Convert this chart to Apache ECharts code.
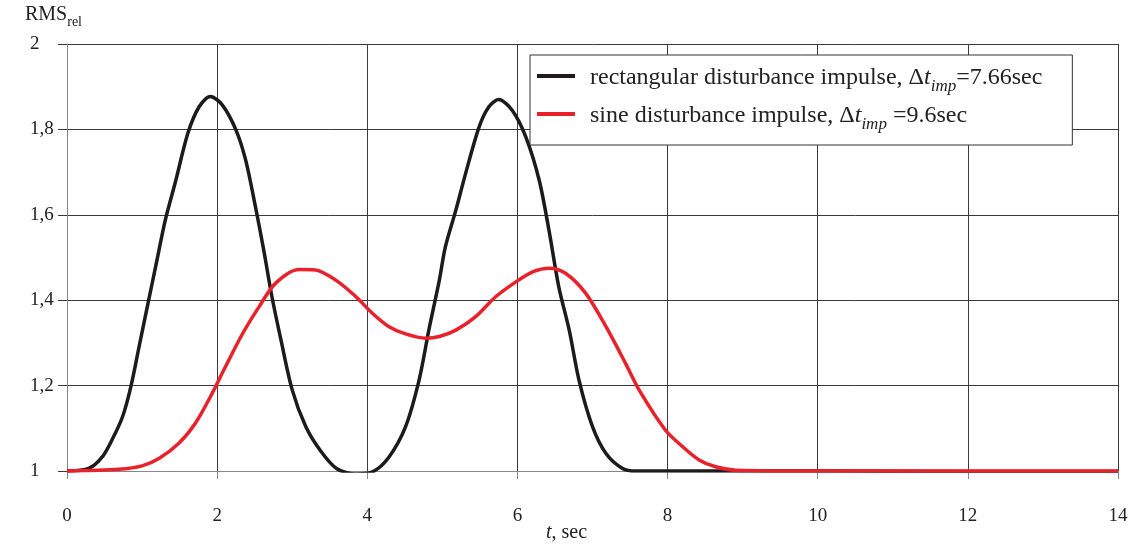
<!DOCTYPE html>
<html><head><meta charset="utf-8">
<script src="https://cdn.jsdelivr.net/npm/echarts@6/dist/echarts.min.js"></script>
<style>html,body{margin:0;padding:0;background:#fff}#c{width:1136px;height:545px}</style>
</head><body><div id="c"></div>
<script>
const xTicks = [0, 2, 4, 6, 8, 10, 12, 14];
const yTicks = [1, 1.2, 1.4, 1.6, 1.8, 2];

const rectT = [0, 0.29, 0.47, 0.60, 0.74, 0.85, 0.96, 1.07, 1.18, 1.31, 1.45, 1.61, 1.76, 1.91, 2.07, 2.25, 2.38, 2.51, 2.62, 2.73, 2.85, 3.00, 3.18, 3.37, 3.59, 3.85, 4.07, 4.29, 4.51, 4.69, 4.82, 4.96, 5.04, 5.18, 5.31, 5.49, 5.62, 5.75, 5.93, 6.11, 6.29, 6.42, 6.55, 6.69, 6.82, 7.00, 7.18, 7.40, 7.58, 8, 10, 12, 14];
const rectV = [1.0, 1.006, 1.033, 1.073, 1.127, 1.197, 1.291, 1.385, 1.478, 1.588, 1.681, 1.791, 1.853, 1.877, 1.857, 1.799, 1.728, 1.619, 1.518, 1.408, 1.307, 1.190, 1.104, 1.049, 1.006, 0.993, 0.998, 1.033, 1.104, 1.213, 1.330, 1.447, 1.525, 1.611, 1.697, 1.806, 1.853, 1.870, 1.845, 1.783, 1.681, 1.564, 1.432, 1.330, 1.213, 1.104, 1.041, 1.006, 1.000, 1.0, 1.0, 0.999, 0.999];

const sineT = [0, 0.69, 1.00, 1.23, 1.49, 1.71, 1.91, 2.11, 2.34, 2.56, 2.78, 3.09, 3.31, 3.58, 3.85, 4.07, 4.29, 4.51, 4.78, 4.96, 5.18, 5.44, 5.71, 5.98, 6.21, 6.42, 6.64, 6.91, 7.18, 7.44, 7.62, 7.97, 8.20, 8.42, 8.64, 8.91, 10, 12, 14];
const sineV = [1.0, 1.004, 1.012, 1.030, 1.065, 1.112, 1.174, 1.244, 1.322, 1.385, 1.440, 1.472, 1.471, 1.447, 1.408, 1.369, 1.338, 1.321, 1.311, 1.315, 1.330, 1.361, 1.408, 1.443, 1.467, 1.475, 1.463, 1.416, 1.338, 1.252, 1.190, 1.096, 1.057, 1.026, 1.010, 1.002, 1.0, 1.0, 1.0];

const nameRect = 'rect';
const nameSine = 'sine';

const serif = '"Liberation Serif", "DejaVu Serif", serif';
const chart = echarts.init(document.getElementById('c'), null, {renderer: 'canvas'});
chart.setOption({
  animation: false,
  backgroundColor: '#fff',
  grid: {left: 67, right: 18, top: 44, bottom: 74, show: false, outerBoundsMode: 'none', containLabel: false},
  legend: {
    left: 530, top: 55, orient: 'vertical',
    padding: [11, 30, 12, 7],
    itemGap: 9,
    backgroundColor: '#fff',
    borderColor: '#333', borderWidth: 1,
    itemWidth: 38, itemHeight: 4,
    icon: 'rect',
    data: [nameRect, nameSine],
    formatter: function (n) {
      if (n === nameRect) return '{n|rectangular disturbance impulse, Δ}{i|t}{s|imp}{n|=7.66sec}';
      return '{n|sine disturbance impulse, Δ}{i|t}{s|imp}{n| =9.6sec}';
    },
    textStyle: {
      fontFamily: serif, fontSize: 24, color: '#222', padding: [0, 0, 0, 10],
      rich: {
        n: {fontFamily: serif, fontSize: 24, color: '#222', verticalAlign: 'bottom', lineHeight: 28},
        i: {fontFamily: serif, fontSize: 24, fontStyle: 'italic', color: '#222', verticalAlign: 'bottom', lineHeight: 28},
        s: {fontFamily: serif, fontSize: 17, fontStyle: 'italic', color: '#222', verticalAlign: 'bottom', lineHeight: 28, padding: [0, 0, -5, 0]}
      }
    }
  },
  xAxis: {
    type: 'value', min: xTicks[0], max: xTicks[xTicks.length - 1], interval: 2,
    axisLine: {show: true, lineStyle: {color: '#888', width: 1}},
    axisTick: {show: true, length: 8, lineStyle: {color: '#888'}},
    splitLine: {show: true, lineStyle: {color: '#3a3a3a', width: 1}},
    axisLabel: {fontFamily: serif, fontSize: 19, color: '#222', margin: 36}
  },
  yAxis: {
    type: 'value', min: yTicks[0], max: yTicks[yTicks.length - 1], interval: 0.2,
    axisLine: {show: true, lineStyle: {color: '#888', width: 1}},
    axisTick: {show: true, length: 9, lineStyle: {color: '#3a3a3a'}},
    splitLine: {show: true, lineStyle: {color: '#3a3a3a', width: 1}},
    axisLabel: {
      fontFamily: serif, fontSize: 19, color: '#222', align: 'left', margin: 37,
      formatter: function (v) { return String(Math.round(v * 10) / 10).replace('.', ','); }
    }
  },
  graphic: [{
    type: 'text', left: 25, top: 5,
    style: {
      text: '{n|RMS}{s|rel}',
      rich: {
        n: {fontFamily: serif, fontSize: 20, fill: '#222', verticalAlign: 'bottom', lineHeight: 24},
        s: {fontFamily: serif, fontSize: 14, fill: '#222', verticalAlign: 'bottom', lineHeight: 24, padding: [0, 0, -4, 0]}
      }
    }
  }, {
    type: 'text', left: 546, top: 523,
    style: {
      text: '{i|t}{n|, sec}',
      rich: {
        i: {fontFamily: serif, fontSize: 20, fontStyle: 'italic', fill: '#222', lineHeight: 22},
        n: {fontFamily: serif, fontSize: 20, fill: '#222', lineHeight: 22}
      }
    }
  }],
  series: [
    {
      name: nameRect, type: 'line', showSymbol: false, smooth: 0.3,
      color: '#1c1a1a',
      lineStyle: {width: 3.5, color: '#1c1a1a'},
      data: rectT.map((t, i) => [t, rectV[i]]), z: 3
    },
    {
      name: nameSine, type: 'line', showSymbol: false, smooth: 0.3,
      color: '#e8212b',
      lineStyle: {width: 3.5, color: '#e8212b'},
      data: sineT.map((t, i) => [t, sineV[i]]), z: 4
    }
  ]
});
</script></body></html>
